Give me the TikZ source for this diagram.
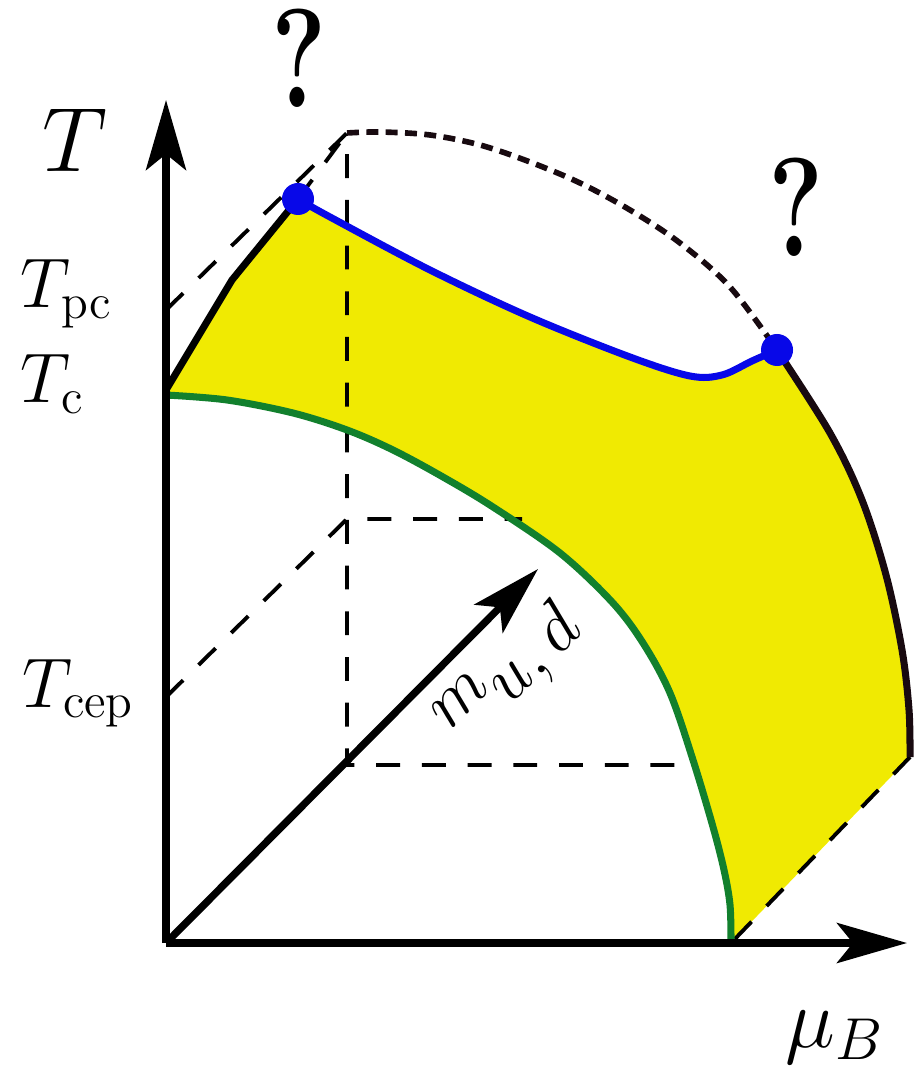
\RequirePackage{fix-cm}
\documentclass[tikz,border=0pt]{standalone}
\usepackage{amsmath}
\usetikzlibrary{arrows.meta}

\definecolor{phaseyellow}{RGB}{240,234,2}
\definecolor{critblue}{RGB}{8,8,232}
\definecolor{crossgreen}{RGB}{18,128,45}
\definecolor{edgeblack}{RGB}{24,10,16}

\begin{document}
\begin{tikzpicture}[
  x=0.01cm, y=-0.01cm,
  axis/.style   = {line width=2.1pt, -{Stealth[length=7mm,width=4mm,inset=1.6mm]}},
  guide/.style  = {line width=1.1pt, dash pattern=on 6.8pt off 6.2pt},
  edge/.style   = {line width=2pt, line join=round},
  dotted/.style = {line width=1.6pt, draw=edgeblack, dash pattern=on 3.4pt off 2.1pt},
  crit/.style   = {circle, fill=critblue, inner sep=0pt, minimum size=3.2mm},
  lab/.style    = {inner sep=0pt, anchor=base west, font=\fontsize{20}{24}\selectfont},
  qm/.style     = {inner sep=0pt, anchor=base, xscale=0.74, font=\fontsize{40}{42}\selectfont\bfseries},
  % curve pieces, reused for the fill and the strokes
  blueline/.style  = {insert path={-- plot[smooth,tension=0.55] coordinates
      {(298,199) (330,217) (430,270) (530,317) (630,357) (690,376) (722,375) (752,361) (777,350)}}},
  rightline/.style = {insert path={-- plot[smooth,tension=0.55] coordinates
      {(777,350) (830,433) (862,500) (886,575) (902,650) (909,710) (910,757)}}},
  greenline/.style = {insert path={-- plot[smooth,tension=0.55] coordinates
      {(731,943) (730,905) (724,870) (713,827) (693,760) (670,693) (643,643) (612,602)
       (560,553) (493,507) (443,477) (393,450) (347,430) (293,413) (227,400) (166,395)}}},
  topline/.style   = {insert path={-- plot[smooth,tension=0.55] coordinates
      {(347,133) (380,132) (430,135) (480,145) (530,162) (580,183) (630,210) (680,243)
       (730,287) (777,350)}}},
]
\useasboundingbox (0,0) rectangle (913,1068);

% ---- points ----------------------------------------------------------------
\coordinate (O)     at (166,943);
\coordinate (Tend)  at (166,100);
\coordinate (muend) at (907,943);
\coordinate (mend)  at (538,569);
\coordinate (Tc)    at (166,390);
\coordinate (Tpc)   at (166,310);
\coordinate (Tcep)  at (166,697);
\coordinate (kink)  at (232,280);
\coordinate (cpl)   at (298,199);
\coordinate (cpr)   at (777,350);
\coordinate (rbot)  at (910,757);
\coordinate (gbot)  at (731,943);
\coordinate (top)   at (347,133);
\coordinate (mid)   at (347,519);
\coordinate (low)   at (347,765);
\coordinate (midg)  at (522,519);
\coordinate (lowg)  at (693,765);

% ---- crossover band --------------------------------------------------------
\fill[phaseyellow] (Tc) -- (kink) -- (cpl) [blueline] [rightline] -- (gbot) [greenline] -- cycle;

% ---- guide lines -----------------------------------------------------------
\draw[guide] (Tpc) -- (top) -- (low) -- (lowg);
\draw[guide] (Tcep) -- (mid) -- (midg);
\draw[guide] (cpl) -- (top);
\draw[guide] (rbot) -- (gbot);
\draw[dotted] (top) [topline];

% ---- boundaries ------------------------------------------------------------
\draw[edge] (Tc) -- (kink) -- (cpl);
\draw[edge, critblue] (cpl) [blueline];
\draw[edge, edgeblack] (cpr) [rightline];
\draw[edge, crossgreen] (gbot) [greenline];

% ---- axes ------------------------------------------------------------------
\draw[axis] (O) -- (Tend);
\draw[axis] (O) -- (muend);
\draw[axis] (O) -- (mend);

\node[crit] (pcl) at (cpl) {};
\node[crit] (pcr) at (cpr) {};

% ---- labels ----------------------------------------------------------------
\node[lab, font=\fontsize{26}{30}\selectfont] (lT) at (42,172) {$T$};
\node[lab] (lTpc)  at (20,308)  {$T_{\mathrm{pc}}$};
\node[lab] (lTc)   at (20,403)  {$T_{\mathrm{c}}$};
\node[lab] (lTcep) at (22,707)  {$T_{\mathrm{cep}}$};
\node[lab, font=\fontsize{24}{28}\selectfont] (lmu) at (785,1047) {$\mu_B$};
\node[inner sep=0pt, rotate=45, font=\fontsize{20}{24}\selectfont] (lm) at (512,675)
  {$m_{\textstyle u,d}$};
\node[qm] (q1) at (299,108) {?};
\node[qm] (q2) at (796,257) {?};

\end{tikzpicture}
\end{document}
